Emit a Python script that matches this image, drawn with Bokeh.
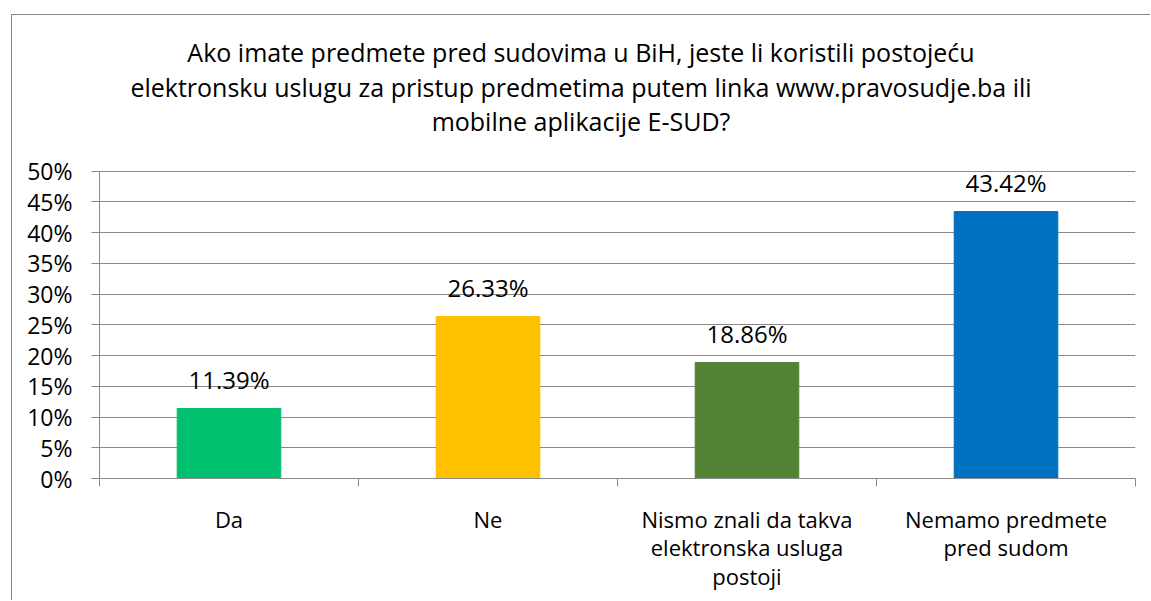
from bokeh.plotting import figure
from bokeh.models import (ColumnDataSource, PrintfTickFormatter, FixedTicker,
                          LinearAxis, Range1d, Div)
from bokeh.layouts import column
from bokeh.core.properties import value
from bokeh.embed import file_html
from bokeh.resources import INLINE

# ---- data ----
categories = ["Da", "Ne", "Nismo znali da takva\nelektronska usluga\npostoji",
              "Nemamo predmete\npred sudom"]
percent_values = [11.39, 26.33, 18.86, 43.42]
bar_labels = ["11.39%", "26.33%", "18.86%", "43.42%"]
bar_colors = ["#00BF6F", "#FFC000", "#548235", "#0070C0"]
y_ticks = [0, 5, 10, 15, 20, 25, 30, 35, 40, 45, 50]
title_lines = [
    "Ako imate predmete pred sudovima u BiH, jeste li koristili postojeću",
    "elektronsku uslugu za pristup predmetima putem linka www.pravosudje.ba ili",
    "mobilne aplikacije E-SUD?",
]

FONT = "Open Sans"
GRID = "#898989"

n = len(categories)
centers = [i + 0.5 for i in range(n)]
bounds = list(range(n + 1))

# ---- title block ----
title_html = (
    '<div style="width:1094px; text-align:center; font-family:\'Open Sans\'; font-size:25px; '
    'line-height:34.5px; color:#000; padding-top:20px; padding-left:44px; '
    'white-space:nowrap;">' + "<br>".join(title_lines) + "</div>"
)
title_div = Div(text=title_html, width=1138, height=131, margin=(0, 0, 0, 0))

# ---- chart ----
src = ColumnDataSource(dict(x=centers, val=percent_values, lab=bar_labels, col=bar_colors))

p = figure(x_range=Range1d(0, n), y_range=Range1d(0, 54), width=1138, height=454,
           output_backend="svg", toolbar_location=None, x_axis_location=None,
           min_border_left=87, min_border_right=15, min_border_top=0, min_border_bottom=122,
           margin=(0, 0, 0, 0))
p.outline_line_color = None
p.background_fill_color = "white"
p.border_fill_color = "white"

p.vbar(x="x", top="val", width=0.4, color="col", source=src)
p.text(x="x", y="val", text="lab", source=src, text_align="center",
       text_baseline="alphabetic", y_offset=-29, text_font=value(FONT),
       text_font_size="24px", text_color="black")

# y axis (line limited to the 0-50 % span)
p.yaxis.ticker = FixedTicker(ticks=y_ticks)
p.yaxis.bounds = (y_ticks[0], y_ticks[-1])
p.yaxis.formatter = PrintfTickFormatter(format="%d%%")
p.yaxis.major_label_text_font = FONT
p.yaxis.major_label_text_font_size = "23px"
p.yaxis.major_label_text_color = "black"
p.yaxis.axis_line_color = GRID
p.yaxis.major_tick_line_color = GRID
p.yaxis.major_tick_in = 0
p.yaxis.major_tick_out = 8
p.yaxis.minor_tick_line_color = None
p.yaxis.major_label_standoff = 19

p.ygrid.grid_line_color = GRID
p.xgrid.grid_line_color = None

# x axis: category labels at centres, boundary ticks as minor ticks
x_axis = LinearAxis(ticker=FixedTicker(ticks=centers, minor_ticks=bounds),
                    major_label_overrides={c: lab for c, lab in zip(centers, categories)},
                    axis_line_color=GRID, major_tick_line_color=None,
                    major_tick_in=0, major_tick_out=0,
                    minor_tick_line_color=GRID, minor_tick_in=0, minor_tick_out=8,
                    major_label_text_font=FONT, major_label_text_font_size="22px",
                    major_label_text_line_height=0.95,
                    major_label_text_color="black", major_label_standoff=17)
p.add_layout(x_axis, "below")

layout = column(title_div, p, spacing=0, margin=(14, 0, 0, 11))
layout.styles = {"border-left": "1px solid #868686", "border-top": "1px solid #868686",
                 "background-color": "white"}

open("out.html", "w").write(file_html(layout, INLINE))
